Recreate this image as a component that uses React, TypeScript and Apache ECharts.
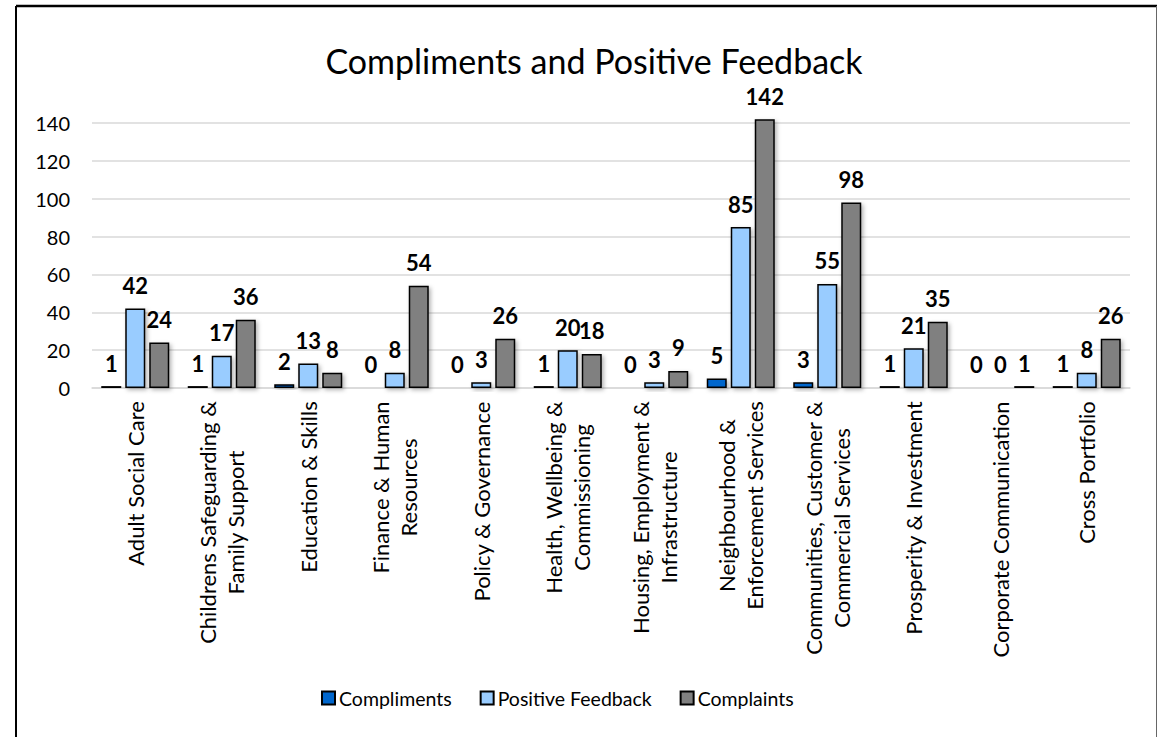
import React, { useEffect, useRef } from "react";
import * as echarts from "echarts";

const categories = [
  "Adult Social Care",
  "Childrens Safeguarding &\nFamily Support",
  "Education & Skills",
  "Finance & Human\nResources",
  "Policy & Governance",
  "Health, Wellbeing &\nCommissioning",
  "Housing, Employment &\nInfrastructure",
  "Neighbourhood &\nEnforcement Services",
  "Communities, Customer &\nCommercial Services",
  "Prosperity & Investment",
  "Corporate Communication",
  "Cross Portfolio",
];
const compliments = [1, 1, 2, 0, 0, 1, 0, 5, 3, 1, 0, 1];
const positiveFeedback = [42, 17, 13, 8, 3, 20, 3, 85, 55, 21, 0, 8];
const complaints = [24, 36, 8, 54, 26, 18, 9, 142, 98, 35, 1, 26];
const seriesNames = ["Compliments", "Positive Feedback", "Complaints"];
const seriesColors = ["#0066CC", "#99CCFF", "#808080"];
const titleText = "Compliments and Positive Feedback";

const FONT = "Lato, 'Noto Sans', sans-serif";
const XL_SIZE = 22;

function measure(text: string, size: number): number {
  const ctx = document.createElement("canvas").getContext("2d");
  if (!ctx) return text.length * size * 0.5;
  ctx.font = `${size}px Lato`;
  return ctx.measureText(text).width;
}

export default function App() {
  const ref = useRef<HTMLDivElement>(null);
  useEffect(() => {
    if (!ref.current) return;
    const chart = echarts.init(ref.current, null, { renderer: "svg" });
    const rich: Record<string, any> = {};
    categories.forEach((c, i) => {
      const w = Math.max(...c.split("\n").map((l) => measure(l, XL_SIZE)));
      rich["c" + i] = {
        width: Math.ceil(w) + 2,
        align: "center",
        fontSize: XL_SIZE,
        fontFamily: FONT,
        color: "#000",
        lineHeight: 28,
      };
    });
    const data = [compliments, positiveFeedback, complaints];
    chart.setOption({
      animation: false,
      title: {
        text: titleText,
        left: 589,
        textAlign: "center",
        top: 38,
        textStyle: { fontFamily: FONT, fontSize: 34, fontWeight: "normal", color: "#000" },
      },
      legend: {
        bottom: 24,
        left: 316,
        icon: "rect",
        itemWidth: 13,
        itemHeight: 13,
        itemGap: 28,
        textStyle: { fontFamily: FONT, fontSize: 19.5, color: "#000", padding: [0, 0, 0, -1] },
      },
      grid: { left: 92, right: 28, top: 123, bottom: 349, containLabel: false },
      xAxis: {
        type: "category",
        data: categories,
        axisTick: { show: false },
        axisLine: { lineStyle: { color: "#d9d9d9", width: 1.5 } },
        axisLabel: {
          interval: 0,
          rotate: 90,
          margin: 12,
          formatter: (v: string, i: number) =>
            v
              .split("\n")
              .map((l) => `{c${i}|${l}}`)
              .join("\n"),
          rich,
        },
      },
      yAxis: {
        type: "value",
        min: 0,
        max: 140,
        interval: 20,
        axisLine: { show: false },
        axisTick: { show: false },
        splitLine: { lineStyle: { color: "#d9d9d9", width: 1.5 } },
        axisLabel: { fontFamily: FONT, fontSize: 20, color: "#000", margin: 22 },
      },
      series: seriesNames.map((name, k) => ({
        name,
        type: "bar",
        data: data[k],
        barWidth: 20,
        barGap: "20%",
        clip: false,
        itemStyle: {
          color: seriesColors[k],
          borderColor: "#000",
          borderWidth: 1.5,
          shadowBlur: 4,
          shadowOffsetX: 2,
          shadowOffsetY: 2,
          shadowColor: "rgba(0,0,0,0.3)",
        },
        label: {
          show: true,
          position: "top",
          distance: 12,
          fontFamily: FONT,
          fontWeight: "bold",
          fontSize: 22,
          color: "#000",
        },
      })),
      graphic: [
        { type: "line", shape: { x1: 16, y1: 6, x2: 1157, y2: 6 }, style: { stroke: "#000", lineWidth: 2.5 } },
        { type: "line", shape: { x1: 16, y1: 6, x2: 16, y2: 737 }, style: { stroke: "#000", lineWidth: 2 } },
        { type: "line", shape: { x1: 1156.5, y1: 6, x2: 1156.5, y2: 737 }, style: { stroke: "#666", lineWidth: 1 } },
      ],
    });
    return () => chart.dispose();
  }, []);
  return (
    <div
      ref={ref}
      style={{ position: "absolute", left: 0, top: 0, width: 1158, height: 737, background: "#fff" }}
    />
  );
}
